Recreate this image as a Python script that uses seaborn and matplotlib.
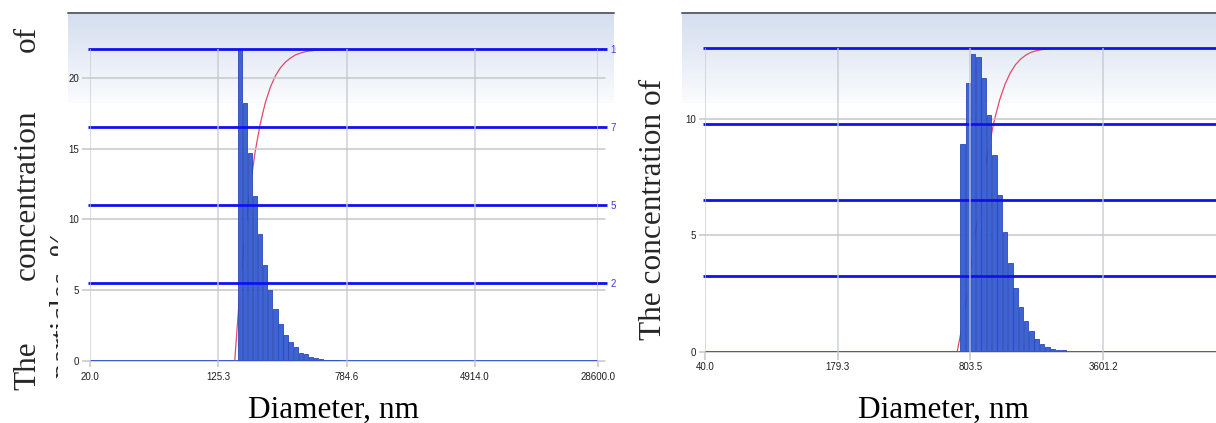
import numpy as np
import matplotlib
matplotlib.use("Agg")
import matplotlib.pyplot as plt
import matplotlib.transforms as mtransforms
from matplotlib import font_manager
from matplotlib.colors import LinearSegmentedColormap
from matplotlib.patches import Rectangle
from matplotlib.ticker import FixedLocator, FixedFormatter, NullLocator
import seaborn as sns

# ---------------- data ----------------
left_diameter_nm = [170.2, 183.0, 196.8, 211.6, 227.6, 244.7, 263.1, 283.0, 304.3, 327.2,
                    351.8, 378.3, 406.8, 437.5, 470.4, 505.8, 543.9, 584.9, 629.0, 676.3]
left_concentration = [22.0, 18.27, 14.7, 11.63, 8.94, 6.81, 5.04, 3.66, 2.6, 1.84,
                      1.3, 1.0, 0.57, 0.47, 0.24, 0.17, 0.1, 0.07, 0.07, 0.07]

right_diameter_nm = [734.5, 779.9, 828.1, 879.3, 933.6, 991.3, 1052.6, 1117.7, 1186.8, 1260.1,
                     1338.0, 1420.7, 1508.5, 1601.7, 1700.7, 1805.9, 1917.5, 2036.0, 2161.8, 2295.5]
right_concentration = [8.92, 11.53, 12.77, 12.67, 11.76, 10.17, 8.45, 6.73, 5.13, 3.79,
                       2.75, 1.90, 1.32, 0.89, 0.54, 0.31, 0.21, 0.10, 0.06, 0.06]

left_xticks = [20.0, 125.3, 784.6, 4914.0, 28600.0]
left_xticklabels = ["20.0", "125.3", "784.6", "4914.0", "28600.0"]
right_xticks = [40.0, 179.3, 803.5, 3601.2]
right_xticklabels = ["40.0", "179.3", "803.5", "3601.2"]
left_yticks = [0, 5, 10, 15, 20]
right_yticks = [0, 5, 10]
cumulative_levels = [25, 50, 75, 100]
cumulative_labels = ["25", "50", "75", "100"]

xlabel_text = "Diameter, nm"
ylabel_words = ["The", "concentration", "of"]
ylabel_second_line = "particles, %"
ylabel_right = "The concentration of"

# ---------------- styling ----------------
sns.set_theme(style="white")
available = {f.name for f in font_manager.fontManager.ttflist}
if "Liberation Sans Narrow" in available:
    tick_family = ["Liberation Sans Narrow", "DejaVu Sans"]
    TICK_SIZE = 7.5
else:
    tick_family = ["Liberation Sans", "DejaVu Sans"]
    TICK_SIZE = 7.0
serif_family = ["Liberation Serif", "DejaVu Serif"]
plt.rcParams["font.family"] = tick_family

W, H = 1216, 423
fig = plt.figure(figsize=(W / 100, H / 100), dpi=100)
fig.patch.set_facecolor("white")


def fx(px):
    return px / W


def fy(py):
    return 1 - py / H


GRID = "#c5c8cd"
BAR = "#3d63d6"
BAR_EDGE = "#2a48b4"
BLUE = "#1010f0"
RED = "#e24a66"
TICK_TXT = "#1e1e1e"
grad_cmap = LinearSegmentedColormap.from_list("g", ["#fbfcfe", "#d4deef"])


def background(x0, x1):
    bg = fig.add_axes([fx(x0), fy(103), fx(x1) - fx(x0), fy(13) - fy(103)], zorder=-5)
    grad = np.linspace(0, 1, 200).reshape(-1, 1)
    bg.imshow(grad, aspect="auto", cmap=grad_cmap, extent=[0, 1, 0, 1], origin="lower")
    bg.set_xlim(0, 1)
    bg.set_ylim(0, 1)
    bg.axhline(1, color="#5d646c", lw=1.4, clip_on=False)
    bg.axis("off")


def panel(rect, diam, conc, xlim, ymax, xticks, xticklabels, yticks, clip_right=None,
          xtick_len=4.3, xtick_pad=3.5, ytick_len=5.5, ytick_pad=1.8):
    ax = fig.add_axes(rect)
    ax.set_zorder(1)
    ax.patch.set_visible(False)

    diam = np.asarray(diam)
    conc = np.asarray(conc)
    ratio = diam[1] / diam[0]
    edges = np.r_[diam / np.sqrt(ratio), diam[-1] * np.sqrt(ratio)]

    sns.histplot(x=diam, weights=conc, bins=[float(v) for v in np.log10(edges)], log_scale=True,
                 shrink=0.86, color=BAR, edgecolor=BAR_EDGE, linewidth=0.6,
                 alpha=1, ax=ax, zorder=2)
    ax.set_xlim(*xlim)
    ax.set_ylim(0, ymax)
    ax.set_xlabel("")
    ax.set_ylabel("")
    for s in ax.spines.values():
        s.set_visible(False)
    ax.grid(False)

    # secondary (cumulative) axis behind the bars
    ax2 = ax.twinx()
    ax2.set_zorder(0.5)
    ax2.patch.set_visible(False)
    ax2.set_ylim(0, 100)
    cum = np.cumsum(conc) / np.sum(conc) * 100
    cx = np.r_[xlim[0], diam[0] / ratio, diam, xlim[1]]
    cy = np.r_[0, 0, cum, 100]
    sns.lineplot(x=cx, y=cy, ax=ax2, color=RED, lw=0.9, sort=False, estimator=None)
    ax2.set_ylabel("")
    ax2.set_xlim(*xlim)
    for s in ax2.spines.values():
        s.set_visible(False)
    ax2.grid(False)

    # horizontal grid (behind bars)
    for y in yticks:
        ax.axhline(y, xmin=0, xmax=1.013, color=GRID, lw=1.1, zorder=1, clip_on=False)
    # baseline of the distribution
    ax.axhline(0, color="#3453c8", lw=1.3, zorder=2.6)
    # cumulative percentage levels (blue) on top of the bars
    trans = mtransforms.blended_transform_factory(ax.transAxes, ax2.transData)
    for lvl in cumulative_levels:
        ax.plot([-0.004, 1.018], [lvl, lvl], transform=trans, color=BLUE, lw=2.0,
                clip_on=False, zorder=3, solid_capstyle="butt")
    # vertical grid lines
    for xv in xticks:
        ax.axvline(xv, color=GRID, lw=1.1, zorder=3.5, alpha=0.85)

    ax.xaxis.set_major_locator(FixedLocator(xticks))
    ax.xaxis.set_major_formatter(FixedFormatter(xticklabels))
    ax.xaxis.set_minor_locator(NullLocator())
    ax.yaxis.set_major_locator(FixedLocator(yticks))
    ax.yaxis.set_major_formatter(FixedFormatter([str(v) for v in yticks]))
    ax.tick_params(axis="x", which="major", bottom=True, length=xtick_len, width=1.1,
                   color=GRID, pad=xtick_pad, labelsize=TICK_SIZE, labelcolor=TICK_TXT)
    ax.tick_params(axis="y", which="major", left=True, length=ytick_len, width=1.1,
                   color=GRID, pad=ytick_pad, labelsize=TICK_SIZE, labelcolor=TICK_TXT)

    ax2.yaxis.set_major_locator(FixedLocator(cumulative_levels))
    ax2.yaxis.set_major_formatter(FixedFormatter(cumulative_labels))
    if clip_right is not None:
        ax2.tick_params(axis="y", which="major", right=False, length=0, pad=9,
                        labelsize=TICK_SIZE, labelcolor="#3a3aff")
        cb = mtransforms.TransformedBbox(
            mtransforms.Bbox.from_extents(fx(590), 0, fx(clip_right), 1), fig.transFigure)
        for t in ax2.yaxis.get_major_ticks():
            t.label2.set_clip_on(True)
            t.label2.set_clip_box(cb)
    else:
        ax2.tick_params(axis="y", which="major", right=False, length=0, labelright=False)
    return ax, ax2


background(68, 614)
background(682, 1216)

panel([fx(90), fy(360.7), fx(598.3) - fx(90), fy(49.3) - fy(360.7)],
      left_diameter_nm, left_concentration, (20.0, 28600.0), 22.05,
      left_xticks, left_xticklabels, left_yticks, clip_right=616,
      xtick_len=4.3, xtick_pad=3.6, ytick_len=5.8, ytick_pad=2.2)

panel([fx(705), fy(351.7), fx(1216) - fx(705), fy(48.3) - fy(351.7)],
      right_diameter_nm, right_concentration, (40.0, 12900.0), 13.03,
      right_xticks, right_xticklabels, right_yticks, clip_right=None,
      xtick_len=5.4, xtick_pad=1.8, ytick_len=4.3, ytick_pad=2.2)

# ---------------- axis titles ----------------
LABEL_SIZE = 22.5
fig.text(fx(333), fy(418), xlabel_text, ha="center", va="baseline",
         family=serif_family, fontsize=LABEL_SIZE, color="black")
fig.text(fx(944), fy(418), xlabel_text, ha="center", va="baseline",
         family=serif_family, fontsize=LABEL_SIZE, color="black")

# left vertical title: justified first line, second line mostly hidden
for word, ystart in zip(ylabel_words, [390, 280, 52]):
    fig.text(fx(35), fy(ystart), word, rotation=90, rotation_mode="anchor",
             ha="left", va="baseline", family=serif_family, fontsize=LABEL_SIZE)
fig.text(fx(71.6), fy(378), ylabel_second_line, rotation=90, rotation_mode="anchor",
         ha="left", va="baseline", family=serif_family, fontsize=LABEL_SIZE, zorder=0.1)
fig.add_artist(Rectangle((fx(57.5), fy(400)), fx(89) - fx(57.5), fy(200) - fy(400),
                         transform=fig.transFigure, facecolor="white", edgecolor="none",
                         zorder=0.2))

fig.text(fx(661), fy(340), ylabel_right, rotation=90, rotation_mode="anchor",
         ha="left", va="baseline", family=serif_family, fontsize=LABEL_SIZE)

fig.savefig("out.png", dpi=100)
